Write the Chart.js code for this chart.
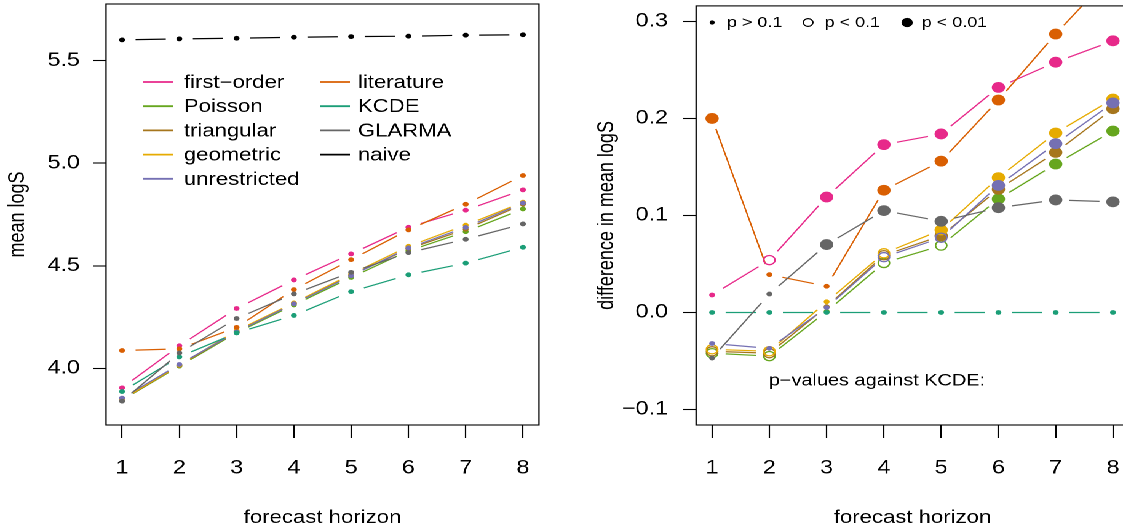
<!DOCTYPE html>
<html>
<head>
<meta charset="utf-8">
<script src="https://cdn.jsdelivr.net/npm/chart.js@4.4.1/dist/chart.umd.min.js"></script>
<style>
  html, body { margin: 0; padding: 0; background: #fff; overflow: hidden; width: 1123px; height: 531px; }
  /* the reference picture is stretched sideways, so the whole drawing is too */
  #wrap { position: absolute; left: 0; top: 0; width: 930px; height: 531px; transform: scale(1.23, 1); transform-origin: 0 0; }
  canvas { position: absolute; top: 0; }
  #left { left: 0; }
  #right { left: 455px; }
</style>
</head>
<body>
<div id="wrap">
  <canvas id="left" width="455" height="531"></canvas>
  <canvas id="right" width="475" height="531"></canvas>
</div>
<script>
// Data

const horizon = [1, 2, 3, 4, 5, 6, 7, 8];
const models = ['first−order', 'Poisson', 'triangular', 'geometric', 'unrestricted', 'literature', 'KCDE', 'GLARMA', 'naive'];
const colors = ['#E7298A', '#66A61E', '#A6761D', '#E6AB02', '#7570B3', '#D95F02', '#1B9E77', '#666666', '#000000'];

// mean logS per model (left panel)
const logsFirstOrder   = [3.905, 4.110, 4.292, 4.431, 4.558, 4.688, 4.771, 4.870];
const logsPoisson      = [3.845, 4.011, 4.174, 4.309, 4.443, 4.573, 4.666, 4.777];
const logsTriangular   = [3.847, 4.014, 4.179, 4.317, 4.453, 4.583, 4.678, 4.800];
const logsGeometric    = [3.849, 4.016, 4.184, 4.319, 4.459, 4.595, 4.698, 4.810];
const logsUnrestricted = [3.855, 4.019, 4.178, 4.315, 4.451, 4.587, 4.687, 4.806];
const logsLiterature   = [4.087, 4.095, 4.200, 4.384, 4.530, 4.675, 4.800, 4.940];
const logsKCDE         = [3.887, 4.056, 4.173, 4.258, 4.374, 4.456, 4.513, 4.590];
const logsGLARMA       = [3.840, 4.075, 4.243, 4.363, 4.468, 4.564, 4.629, 4.704];
const logsNaive        = [5.601, 5.606, 5.609, 5.614, 5.617, 5.619, 5.624, 5.626];

// difference in mean logS against KCDE (right panel)
const diffFirstOrder   = [0.018, 0.054, 0.119, 0.173, 0.184, 0.232, 0.258, 0.280];
const diffPoisson      = [-0.042, -0.045, 0.001, 0.051, 0.069, 0.117, 0.153, 0.187];
const diffTriangular   = [-0.040, -0.042, 0.006, 0.059, 0.079, 0.127, 0.165, 0.210];
const diffGeometric    = [-0.038, -0.040, 0.011, 0.061, 0.085, 0.139, 0.185, 0.220];
const diffUnrestricted = [-0.032, -0.037, 0.005, 0.057, 0.077, 0.131, 0.174, 0.216];
const diffLiterature   = [0.200, 0.039, 0.027, 0.126, 0.156, 0.219, 0.287, 0.350];
const diffKCDE         = [0, 0, 0, 0, 0, 0, 0, 0];
const diffGLARMA       = [-0.047, 0.019, 0.070, 0.105, 0.094, 0.108, 0.116, 0.114];

// p-value class against KCDE: 0 = p > 0.1, 1 = p < 0.1, 2 = p < 0.01
const pFirstOrder   = [0, 1, 2, 2, 2, 2, 2, 2];
const pPoisson      = [1, 1, 0, 1, 1, 2, 2, 2];
const pTriangular   = [1, 1, 0, 1, 2, 2, 2, 2];
const pGeometric    = [1, 1, 0, 1, 2, 2, 2, 2];
const pUnrestricted = [0, 0, 0, 1, 1, 2, 2, 2];
const pLiterature   = [2, 0, 0, 2, 2, 2, 2, 2];
const pKCDE         = [0, 0, 0, 0, 0, 0, 0, 0];
const pGLARMA       = [0, 0, 2, 2, 2, 2, 2, 2];

const leftTicks = [4.0, 4.5, 5.0, 5.5];
const rightTicks = [-0.1, 0.0, 0.1, 0.2, 0.3];

const leftValues = [logsFirstOrder, logsPoisson, logsTriangular, logsGeometric, logsUnrestricted, logsLiterature, logsKCDE, logsGLARMA, logsNaive];
const rightValues = [diffFirstOrder, diffPoisson, diffTriangular, diffGeometric, diffUnrestricted, diffLiterature, diffKCDE, diffGLARMA];
const rightP = [pFirstOrder, pPoisson, pTriangular, pGeometric, pUnrestricted, pLiterature, pKCDE, pGLARMA];

// Styles

const FAMILY = '"Liberation Sans", Arial, sans-serif';
const FONT = { family: FAMILY, size: 18 };
const TICKFONT = { family: FAMILY, size: 19 };
const GAP = 11;

// Datasets

let makeDataset = (i, vals, pcls) => {
  return {
    label: models[i],
    data: vals.map((v, k) => ({ x: horizon[k], y: v })),
    showLine: false,
    borderColor: colors[i],
    order: models.length - i,
    pointStyle: 'circle',
    pointRadius: pcls.map(s => s === 2 ? 5.4 : s === 1 ? 4.6 : 2.4),
    pointBackgroundColor: pcls.map(s => s === 1 ? 'rgba(0,0,0,0)' : colors[i]),
    pointBorderColor: colors[i],
    pointBorderWidth: pcls.map(s => s === 1 ? 1.3 : 0)
  };
};

// Plugins

// lines between points with a gap around each point (like R type = "b")
const gapLines = {
  id: 'gapLines',
  beforeDatasetsDraw(chart) {
    const ctx = chart.ctx, a = chart.chartArea;
    ctx.save();
    ctx.beginPath();
    ctx.rect(a.left, a.top, a.right - a.left, a.bottom - a.top);
    ctx.clip();
    ctx.lineWidth = 1.2;
    chart.data.datasets.forEach((ds, i) => {
      const pts = chart.getDatasetMeta(i).data;
      ctx.strokeStyle = ds.borderColor;
      for (let k = 0; k < pts.length - 1; k++) {
        const p = pts[k], q = pts[k + 1];
        const dx = q.x - p.x, dy = q.y - p.y, len = Math.hypot(dx, dy);
        if (len <= 2 * GAP) continue;
        const ux = dx / len, uy = dy / len;
        ctx.beginPath();
        ctx.moveTo(p.x + ux * GAP, p.y + uy * GAP);
        ctx.lineTo(q.x - ux * GAP, q.y - uy * GAP);
        ctx.stroke();
      }
    });
    ctx.restore();
  }
};

// box around the plot region
const box = {
  id: 'box',
  afterDraw(chart) {
    const ctx = chart.ctx, a = chart.chartArea;
    ctx.save();
    ctx.strokeStyle = '#000';
    ctx.lineWidth = 1.1;
    ctx.strokeRect(a.left, a.top, a.right - a.left, a.bottom - a.top);
    ctx.restore();
  }
};

const leftLegend = {
  id: 'leftLegend',
  afterDraw(chart) {
    const ctx = chart.ctx;
    ctx.save();
    ctx.font = '18px ' + FAMILY;
    ctx.textBaseline = 'middle';
    ctx.lineWidth = 1.8;
    models.forEach((m, i) => {
      const col = i < 5 ? 0 : 1;
      const row = i < 5 ? i : i - 5;
      const x0 = col ? 260 : 116;
      const y = 82 + row * 24.2;
      ctx.strokeStyle = colors[i];
      ctx.beginPath();
      ctx.moveTo(x0, y);
      ctx.lineTo(x0 + 24.5, y);
      ctx.stroke();
      ctx.fillStyle = '#000';
      ctx.fillText(m, col ? 291 : 149.5, y + 1);
    });
    ctx.restore();
  }
};

const rightNotes = {
  id: 'rightNotes',
  afterDraw(chart) {
    const ctx = chart.ctx;
    ctx.save();
    ctx.textBaseline = 'middle';
    ctx.fillStyle = '#000';
    ctx.strokeStyle = '#000';
    ctx.font = '14.6px ' + FAMILY;
    // p > 0.1
    ctx.beginPath(); ctx.arc(124, 22.5, 2.1, 0, Math.PI * 2); ctx.fill();
    ctx.fillText('p > 0.1', 136, 23);
    // p < 0.1
    ctx.lineWidth = 1.2;
    ctx.beginPath(); ctx.arc(202, 22.5, 3.9, 0, Math.PI * 2); ctx.stroke();
    ctx.fillText('p < 0.1', 215.5, 23);
    // p < 0.01
    ctx.beginPath(); ctx.arc(282.5, 22.5, 4.6, 0, Math.PI * 2); ctx.fill();
    ctx.fillText('p < 0.01', 294.5, 23);
    ctx.font = '16.2px ' + FAMILY;
    ctx.fillText('p−values against KCDE:', 170, 381);
    ctx.restore();
  }
};

// Charts

let buildChart = (id, datasets, o) => {
  return new Chart(document.getElementById(id), {
    type: 'line',
    data: { datasets: datasets },
    options: {
      responsive: false,
      animation: false,
      devicePixelRatio: 2,
      events: [],
      layout: { padding: { left: 0, right: o.padRight, top: 1, bottom: 0 } },
      plugins: { legend: { display: false }, tooltip: { enabled: false } },
      scales: {
        x: {
          type: 'linear',
          min: 0.72,
          max: 8.28,
          afterBuildTicks: s => { s.ticks = horizon.map(v => ({ value: v })); },
          afterFit: s => { s.height = 106; s.paddingLeft = 0; s.paddingRight = 0; },
          grid: { drawOnChartArea: false, drawTicks: true, tickLength: 13, tickColor: '#000', tickWidth: 1.1 },
          border: { display: false },
          ticks: { color: '#000', font: TICKFONT, padding: 19, maxRotation: 0, autoSkip: false, callback: v => String(v) },
          title: { display: true, text: 'forecast horizon', color: '#000', font: FONT, padding: { top: 0, bottom: 2 } }
        },
        y: {
          type: 'linear',
          min: o.yMin,
          max: o.yMax,
          afterBuildTicks: s => { s.ticks = o.yTicks.map(v => ({ value: v })); },
          afterFit: s => { s.width = o.yWidth; s.paddingTop = 0; s.paddingBottom = 0; },
          grid: { drawOnChartArea: false, drawTicks: true, tickLength: 10.6, tickColor: '#000', tickWidth: 1.1 },
          border: { display: false },
          ticks: { color: '#000', font: TICKFONT, padding: o.tickPad, autoSkip: false, callback: v => v.toFixed(1).replace('-', '−') },
          title: { display: true, text: o.yTitle, color: '#000', font: FONT, padding: { top: o.titlePad, bottom: 0 } }
        }
      }
    },
    plugins: [gapLines, box].concat(o.plugins)
  });
};

const leftSets = leftValues.map((vals, i) => makeDataset(i, vals, pKCDE));
const rightSets = rightValues.map((vals, i) => makeDataset(i, vals, rightP[i]));

buildChart('left', leftSets, {
  yMin: 3.724, yMax: 5.776, yTicks: leftTicks, yWidth: 86.2, padRight: 16.8,
  tickPad: 10.6, titlePad: 3.8, yTitle: 'mean logS', plugins: [leftLegend]
});

buildChart('right', rightSets, {
  yMin: -0.116, yMax: 0.316, yTicks: rightTicks, yWidth: 110.9, padRight: 12.1,
  tickPad: 12.2, titlePad: 27.7, yTitle: 'difference in mean logS', plugins: [rightNotes]
});
</script>
</body>
</html>
